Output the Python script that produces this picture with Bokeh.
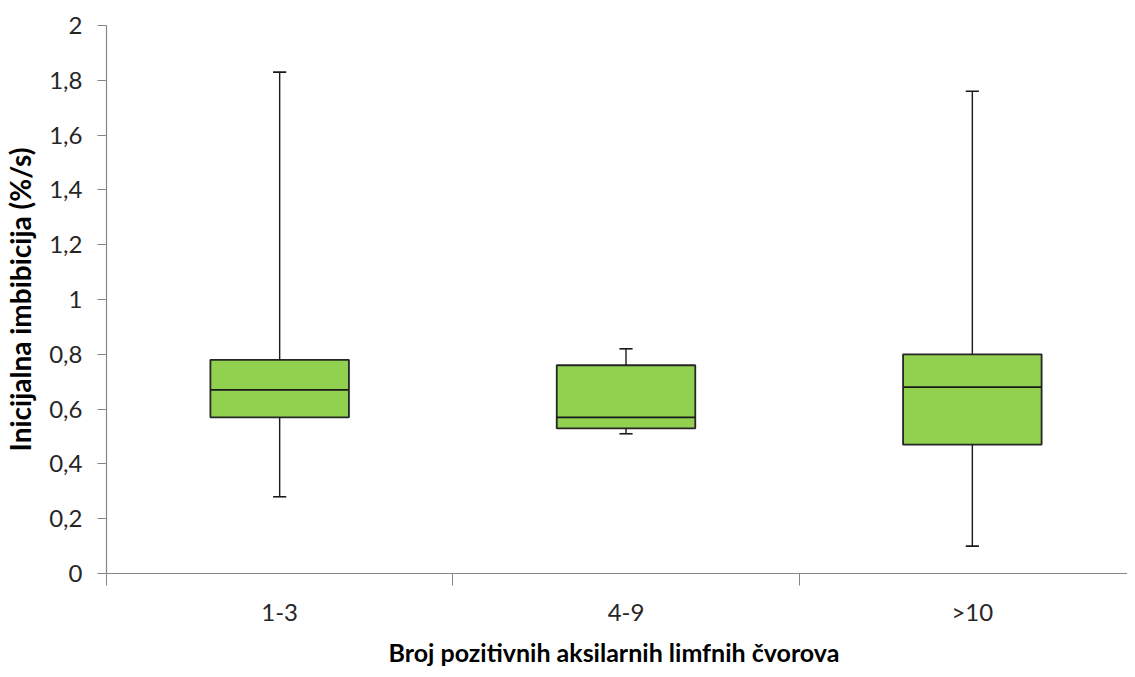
from bokeh.plotting import figure
from bokeh.models import Range1d, FixedTicker
from bokeh.embed import file_html
from bokeh.resources import INLINE

categories = ["1-3", "4-9", ">10"]
lower = [0.28, 0.51, 0.10]
q1 = [0.57, 0.53, 0.47]
median = [0.67, 0.57, 0.68]
q3 = [0.78, 0.76, 0.80]
upper = [1.83, 0.82, 1.76]
y_ticks = [0, 0.2, 0.4, 0.6, 0.8, 1.0, 1.2, 1.4, 1.6, 1.8, 2.0]
y_tick_labels = ["0", "0,2", "0,4", "0,6", "0,8", "1", "1,2", "1,4", "1,6", "1,8", "2"]

xs = [i + 0.5 for i in range(len(categories))]
box_w = 0.40
cap_hw = 0.019

FONT = "Lato"
TXT = "#262626"
AX = "#868686"

p = figure(width=1127, height=669, output_backend="svg", toolbar_location=None,
           x_range=Range1d(0, 2.948), y_range=Range1d(0, 2),
           min_border_left=104, min_border_right=0, min_border_top=25, min_border_bottom=95)
p.outline_line_color = None
p.xgrid.visible = False
p.ygrid.visible = False

# boxes
p.vbar(x=xs, width=box_w, bottom=q1, top=q3, fill_color="#92D050",
       line_color="#262626", line_width=1.8)
# medians
p.segment(x0=[x - box_w / 2 for x in xs], x1=[x + box_w / 2 for x in xs],
          y0=median, y1=median, line_color="#1a1a1a", line_width=1.8)
# whiskers
p.segment(x0=xs, x1=xs, y0=q3, y1=upper, line_color="#1a1a1a", line_width=1.4)
p.segment(x0=xs, x1=xs, y0=q1, y1=lower, line_color="#1a1a1a", line_width=1.4)
# caps
p.segment(x0=[x - cap_hw for x in xs], x1=[x + cap_hw for x in xs],
          y0=upper, y1=upper, line_color="#1a1a1a", line_width=1.6)
p.segment(x0=[x - cap_hw for x in xs], x1=[x + cap_hw for x in xs],
          y0=lower, y1=lower, line_color="#1a1a1a", line_width=1.6)

# x axis
p.xaxis.ticker = FixedTicker(ticks=xs, minor_ticks=[0, 1, 2, 3])
p.xaxis.major_label_overrides = {x: c for x, c in zip(xs, categories)}
p.xaxis.major_tick_out = 0
p.xaxis.major_tick_in = 0
p.xaxis.minor_tick_out = 12
p.xaxis.minor_tick_in = 0
p.xaxis.minor_tick_line_color = AX
p.xaxis.axis_line_color = AX
p.xaxis.axis_line_width = 1.2
p.xaxis.major_label_standoff = 11
p.xaxis.major_label_text_font = FONT
p.xaxis.major_label_text_font_size = "24px"
p.xaxis.major_label_text_color = TXT
p.xaxis.axis_label = "Broj pozitivnih aksilarnih  limfnih čvorova"
p.xaxis.axis_label_text_font = FONT
p.xaxis.axis_label_text_font_size = "25px"
p.xaxis.axis_label_text_font_style = "bold"
p.xaxis.axis_label_text_color = "#000000"
p.xaxis.axis_label_standoff = 8

# y axis
p.yaxis.ticker = FixedTicker(ticks=y_ticks, minor_ticks=[])
p.yaxis.major_label_overrides = {t: l for t, l in zip(y_ticks, y_tick_labels)}
p.yaxis.major_tick_out = 9
p.yaxis.major_tick_in = 0
p.yaxis.major_tick_line_color = AX
p.yaxis.axis_line_color = AX
p.yaxis.axis_line_width = 1.2
p.yaxis.major_label_standoff = 15
p.yaxis.major_label_text_font = FONT
p.yaxis.major_label_text_font_size = "24px"
p.yaxis.major_label_text_color = TXT
p.yaxis.axis_label = "Inicijalna imbibicija (%/s)"
p.yaxis.axis_label_text_font = FONT
p.yaxis.axis_label_text_font_size = "28px"
p.yaxis.axis_label_text_font_style = "bold"
p.yaxis.axis_label_text_color = "#000000"
p.yaxis.axis_label_standoff = 9

open("out.html", "w").write(file_html(p, INLINE))
